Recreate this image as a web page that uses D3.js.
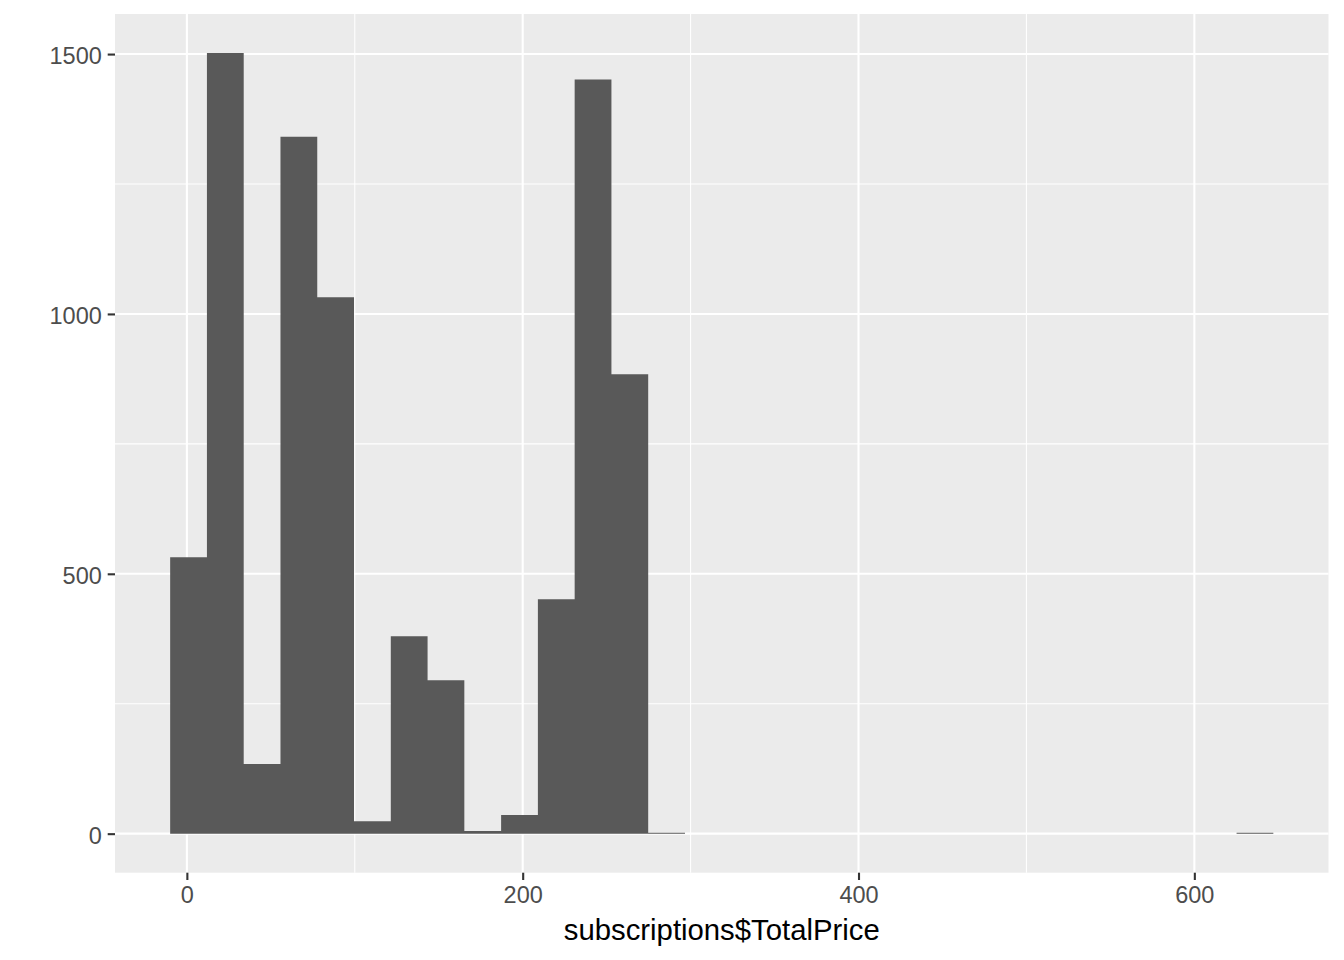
<!DOCTYPE html>
<html>
<head>
<meta charset="utf-8">
<script src="https://cdn.jsdelivr.net/npm/d3@7"></script>
<style>
  html, body { margin: 0; padding: 0; background: #ffffff; }
  svg { display: block; }
</style>
</head>
<body>
<svg id="chart" width="1344" height="960"></svg>
<script>
// ---- data ----
const binStart = -9.95;     // left edge of first bin
const binWidth = 21.9;      // histogram bin width
const counts = [532, 1502, 134, 1341, 1032, 24, 380, 295, 5, 36, 451, 1451, 884, 1,
                0, 0, 0, 0, 0, 0, 0, 0, 0, 0, 0, 0, 0, 0, 0, 1];
const xTicks = [0, 200, 400, 600];
const xMinor = [100, 300, 500];
const yTicks = [0, 500, 1000, 1500];
const yMinor = [250, 750, 1250];
const xTitle = "subscriptions$TotalPrice";

// ---- layout ----
const panel = { left: 115, right: 1328.5, top: 14, bottom: 872.7 };
const bins = counts.map((c, i) => ({ x0: binStart + i * binWidth, x1: binStart + (i + 1) * binWidth, n: c }));
const xMin = bins[0].x0, xMax = bins[bins.length - 1].x1;
const xPad = (xMax - xMin) * 0.05;
const yMax = d3.max(counts), yPad = yMax * 0.05;

const x = d3.scaleLinear().domain([xMin - xPad, xMax + xPad]).range([panel.left, panel.right]);
const y = d3.scaleLinear().domain([-yPad, yMax + yPad]).range([panel.bottom, panel.top]);

const svg = d3.select("#chart");
svg.append("rect").attr("x", panel.left).attr("y", panel.top)
  .attr("width", panel.right - panel.left).attr("height", panel.bottom - panel.top)
  .attr("fill", "#EBEBEB");

const grid = svg.append("g");
grid.selectAll(".ymin").data(yMinor).join("line")
  .attr("x1", panel.left).attr("x2", panel.right)
  .attr("y1", d => y(d)).attr("y2", d => y(d))
  .attr("stroke", "#fff").attr("stroke-width", 1.05);
grid.selectAll(".xmin").data(xMinor).join("line")
  .attr("y1", panel.top).attr("y2", panel.bottom)
  .attr("x1", d => x(d)).attr("x2", d => x(d))
  .attr("stroke", "#fff").attr("stroke-width", 1.05);
grid.selectAll(".ymaj").data(yTicks).join("line")
  .attr("x1", panel.left).attr("x2", panel.right)
  .attr("y1", d => y(d)).attr("y2", d => y(d))
  .attr("stroke", "#fff").attr("stroke-width", 2.1);
grid.selectAll(".xmaj").data(xTicks).join("line")
  .attr("y1", panel.top).attr("y2", panel.bottom)
  .attr("x1", d => x(d)).attr("x2", d => x(d))
  .attr("stroke", "#fff").attr("stroke-width", 2.1);

// bars: one path made of all bin rectangles (no seams between neighbours)
const barPath = d3.path();
bins.filter(d => d.n > 0).forEach(d => {
  const h = Math.max(y(0) - y(d.n), 0.8);
  barPath.rect(x(d.x0), y(0) - h, x(d.x1) - x(d.x0), h);
});
svg.append("path").attr("d", barPath.toString()).attr("fill", "#595959");

// axes (ggplot style)
const tickLen = 7.3, tickPad = 5.9;
const xAxis = d3.axisBottom(x).tickValues(xTicks).tickSize(tickLen).tickPadding(tickPad).tickFormat(d3.format("d"));
const gx = svg.append("g").attr("transform", `translate(0,${panel.bottom})`).call(xAxis);
gx.select(".domain").remove();
gx.selectAll(".tick line").attr("stroke", "#333333").attr("stroke-width", 2.1);
gx.selectAll(".tick text").attr("fill", "#4D4D4D").attr("font-size", 23.5)
  .attr("font-family", "'Liberation Sans', Arial, sans-serif").attr("dy", "0.72em");

const yAxis = d3.axisLeft(y).tickValues(yTicks).tickSize(tickLen).tickPadding(tickPad).tickFormat(d3.format("d"));
const gy = svg.append("g").attr("transform", `translate(${panel.left},0)`).call(yAxis);
gy.select(".domain").remove();
gy.selectAll(".tick line").attr("stroke", "#333333").attr("stroke-width", 2.1);
gy.selectAll(".tick text").attr("fill", "#4D4D4D").attr("font-size", 23.5)
  .attr("font-family", "'Liberation Sans', Arial, sans-serif").attr("dy", "0.4em");

svg.append("text").attr("x", (panel.left + panel.right) / 2).attr("y", 940)
  .attr("text-anchor", "middle").attr("font-size", 29.3)
  .attr("font-family", "'Liberation Sans', Arial, sans-serif").attr("fill", "#000")
  .text(xTitle);
</script>
</body>
</html>
